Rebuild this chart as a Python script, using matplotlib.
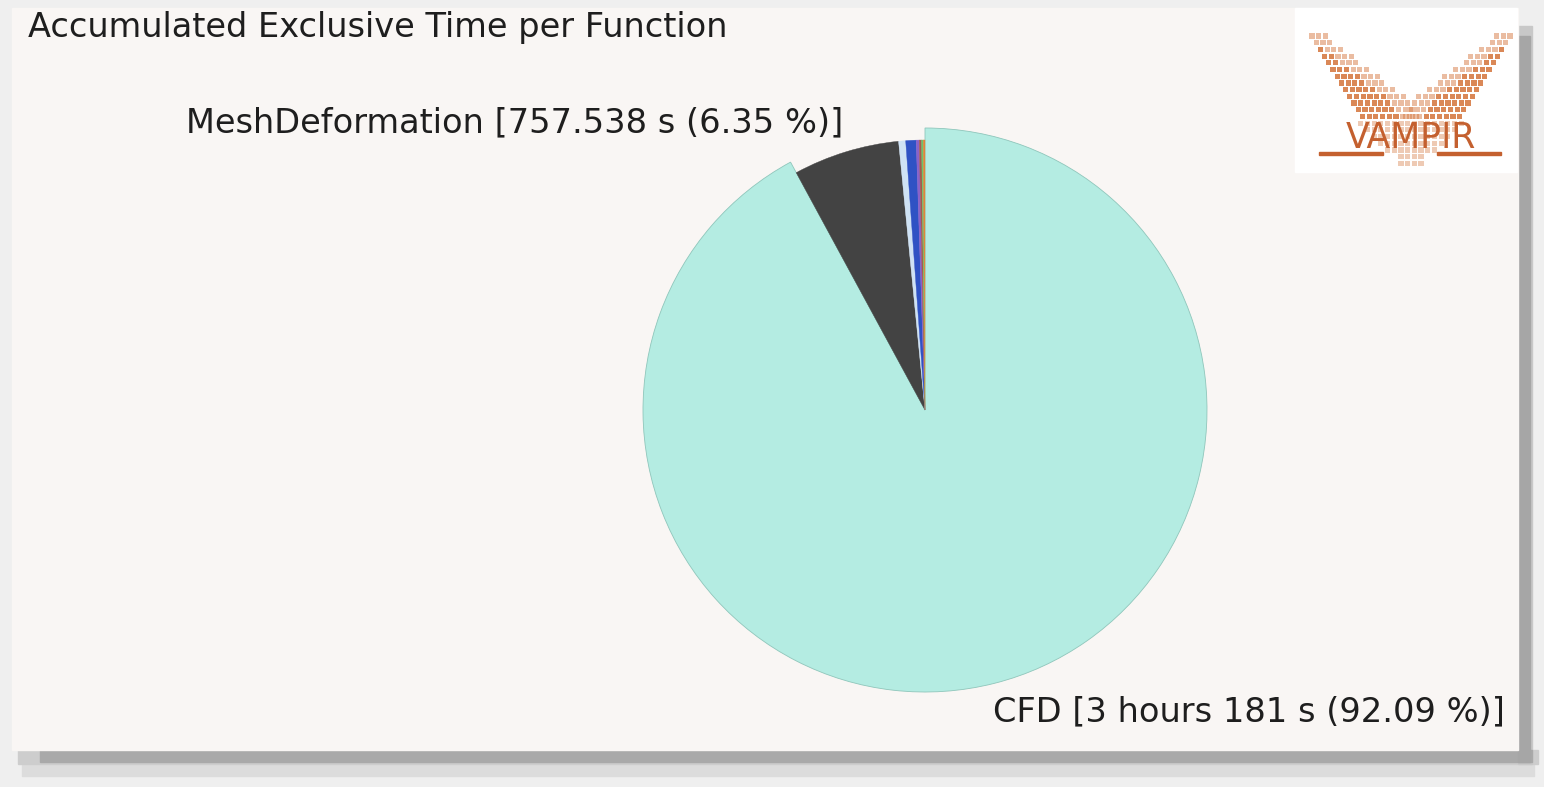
import matplotlib
matplotlib.use("Agg")
import matplotlib.pyplot as plt
from matplotlib.patches import Rectangle
import numpy as np

# ---- data ----
functions = ["CFD", "MeshDeformation", "Other A", "Other B", "Other C", "Other D", "Other E", "Other F"]
percent = [92.09, 6.35, 0.42, 0.62, 0.18, 0.14, 0.10, 0.10]
colors = ["#b4ece2", "#434343", "#cfe2f4", "#2f52c4", "#8a62c8", "#a45a4e", "#6cc46a", "#e0843a"]
label_cfd = "CFD [3 hours 181 s (92.09 %)]"
label_mesh = "MeshDeformation [757.538 s (6.35 %)]"
title = "Accumulated Exclusive Time per Function"

W, H = 1544, 787
fig = plt.figure(figsize=(W / 100, H / 100), dpi=100)
fig.patch.set_facecolor("#efefef")
ax = fig.add_axes([0, 0, 1, 1])

def Y(y):
    return H - y

# pie
wedges, _ = ax.pie(percent, colors=colors, startangle=90, counterclock=False,
                   center=(925, Y(410)), radius=282, frame=True,
                   wedgeprops=dict(linewidth=0.6, zorder=3))
ax.set_xlim(0, W)
ax.set_ylim(0, H)
ax.set_aspect("equal")
ax.axis("off")
for i, w in enumerate(wedges):
    if i == 0:
        w.set_edgecolor("#8fc6bb")
    else:
        w.set_radius(270)
        w.set_edgecolor(colors[i])
        w.set_linewidth(0.3)

# shadows and panel
ax.add_patch(Rectangle((22, Y(776)), 1512, 14, color="#dcdcdc", zorder=0))
ax.add_patch(Rectangle((18, Y(764)), 1520, 14, color="#cdcdcd", zorder=0))
ax.add_patch(Rectangle((1518, Y(764)), 14, 738, color="#c8c8c8", zorder=0))
ax.add_patch(Rectangle((40, Y(762)), 1492, 12, color="#a9a9a9", zorder=0))
ax.add_patch(Rectangle((1518, Y(762)), 12, 726, color="#a6a6a6", zorder=0))
ax.add_patch(Rectangle((12, Y(750)), 1506, 742, color="#f9f6f4", zorder=1))

# texts
fs = 24.2
ax.text(28, Y(27), title, fontsize=fs, color="#1e1e1e", ha="left", va="center", zorder=5)
ax.text(843, Y(123), label_mesh, fontsize=fs, color="#1e1e1e", ha="right", va="center", zorder=5)
ax.text(1505, Y(712), label_cfd, fontsize=fs, color="#1e1e1e", ha="right", va="center", zorder=5)

# logo
ax.add_patch(Rectangle((1295, Y(172)), 222, 164, color="white", zorder=4))
logo_c = "#d67b45"
cx = 1411
step = 6.7
sq = []
for i in range(13):
    y = 36 + i * step
    n = min(3 + (2 * i) // 3, 9)
    x0 = 1312 + i * 4.2
    for k in range(n):
        a = 0.9 if k < n - 3 else 0.5
        sq.append((x0 + k * step, y, a))
        sq.append((2 * cx - (x0 + k * step), y, a))
for i in range(7):
    y = 36 + 12 * step + (i + 1) * step
    n = 16 - 2 * i if i < 5 else 4
    for k in range(n):
        xx = cx - (n - 1) * step / 2 + k * step
        sq.append((xx, y, 0.4))
for (x, y, a) in sq:
    ax.add_patch(Rectangle((x - 2.6, Y(y) - 2.6), 5.2, 5.2, color=logo_c, alpha=a, lw=0, zorder=5))
ax.text(cx, Y(138), "VAMPIR", fontsize=25, color="#c4602f", ha="center", va="center",
        fontweight="normal", zorder=6, family="DejaVu Sans")
ax.add_patch(Rectangle((1319, Y(155)), 64, 3.5, color="#c4602f", zorder=6))
ax.add_patch(Rectangle((1437, Y(155)), 64, 3.5, color="#c4602f", zorder=6))

fig.savefig("out.png", dpi=100, facecolor=fig.get_facecolor())
